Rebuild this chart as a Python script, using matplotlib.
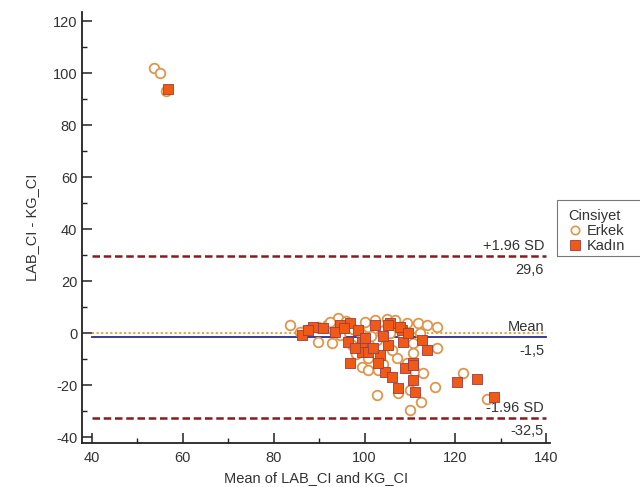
import matplotlib
matplotlib.use("Agg")
import matplotlib.pyplot as plt
from matplotlib.patches import Rectangle
from matplotlib.lines import Line2D

plt.rcParams['font.family'] = ['Liberation Sans', 'DejaVu Sans']
plt.rcParams['axes.unicode_minus'] = False

# Erkek (circles)
erkek_x = [53.6, 55.0, 56.3,
           83.6, 91.7, 94.1, 93.0, 89.7, 92.8, 97.2, 99.0, 100.7, 102.7, 104.9, 104.9,
           107.1, 109.3, 111.7, 113.7, 115.9, 110.6, 115.9, 110.6, 100.7, 99.4, 100.7,
           107.1, 109.3, 111.1, 102.7, 110.0, 115.5, 110.0, 112.4, 121.6, 126.9,
           87.1, 89.7, 95.7, 102.3, 106.7, 112.2, 102.9, 107.3, 112.8, 92.4, 100.1,
           94.6, 105.6, 85.8, 97.5, 103.8, 108.5, 96.0, 101.5, 106.0, 98.2, 104.0]
erkek_y = [102.0, 100.0, 93.0,
           3.1, 3.1, 5.8, 1.2, -3.5, -3.8, -4.6, 0.4, 2.3, -2.7, 5.5, 2.3,
           3.1, 3.8, 3.8, 3.1, 2.3, -3.8, -5.8, -7.7, -9.6, -13.1, -14.2,
           -9.6, -11.5, -15.0, -23.8, -21.9, -20.8, -29.6, -26.5, -15.4, -25.4,
           1.2, 2.3, 2.3, 5.0, 5.0, 0.0, -14.2, -23.1, -15.4, 4.2, 4.2,
           -0.8, 0.0, 0.4, 1.5, 0.8, -1.0, 4.5, -1.2, -6.5, -8.0, -12.0]

# Kadın (squares)
kadin_x = [56.7,
           86.2, 88.6, 94.6, 96.8, 96.3, 99.4, 99.4, 100.7, 103.4, 105.6, 108.2, 108.4,
           112.6, 113.7, 96.8, 104.5, 106.0, 108.9, 110.6, 110.6, 107.3, 111.1,
           120.3, 124.7, 128.4,
           87.5, 90.8, 98.5, 100.1, 102.3, 105.1, 107.8, 105.1, 101.8, 102.9, 97.9, 110.6,
           93.5, 109.5, 104.0, 95.5]
kadin_y = [94.0,
           -0.8, 2.3, 3.1, 3.8, -3.5, -3.5, -7.3, -7.3, -8.5, 3.8, 1.2, -3.5,
           -2.7, -6.5, -11.5, -15.0, -16.9, -13.5, -11.5, -18.1, -21.2, -22.7,
           -18.8, -17.7, -24.6,
           1.2, 1.9, 1.2, -1.9, 3.1, 3.1, 2.3, -4.6, -5.8, -11.5, -5.8, -12.3,
           0.5, 0.0, -1.0, 1.8]

mean_diff = -1.5
upper_loa = 29.6
lower_loa = -32.5
line_labels = [("+1.96 SD", "29,6", upper_loa), ("Mean", "-1,5", mean_diff), ("-1.96 SD", "-32,5", lower_loa)]

fig = plt.figure(figsize=(6.4, 4.87), dpi=100)
ax = fig.add_axes([82/640, 1-443/487, (550-82)/640, (443-12)/487])
ax.set_xlim(37.8, 140.8)
ax.set_ylim(-42.3, 123.5)

# reference lines
ax.plot([40, 140], [0, 0], color='#E8A040', lw=1.5, ls=(0, (1, 1.2)), zorder=1)
ax.plot([40, 140], [mean_diff, mean_diff], color='#2B2B8C', lw=1.3, zorder=1)
for y in (upper_loa, lower_loa):
    ax.plot([40, 140], [y, y], color='#8B1A1A', lw=1.8, ls=(0, (3, 1.5)), zorder=1)

ax.scatter(erkek_x, erkek_y, marker='o', s=48, facecolors='white', edgecolors='#E0954A',
           linewidths=1.3, zorder=3)
ax.scatter(kadin_x, kadin_y, marker='s', s=52, facecolors='#F05A14', edgecolors='#9A3A4A',
           linewidths=0.6, zorder=4)

for top, bot, y in line_labels:
    ax.annotate(top, (139.5, y), xytext=(0, 2), textcoords='offset points',
                ha='right', va='bottom', fontsize=10.5, color='#333333')
    ax.annotate(bot, (139.5, y), xytext=(0, -5), textcoords='offset points',
                ha='right', va='top', fontsize=10.5, color='#333333')

ax.spines['top'].set_visible(False)
ax.spines['right'].set_visible(False)
for s in ('left', 'bottom'):
    ax.spines[s].set_linewidth(1.3)
    ax.spines[s].set_color('#222222')
ax.set_xticks(range(40, 141, 20))
ax.set_xticks(range(50, 141, 20), minor=True)
ax.set_yticks(range(-40, 121, 20))
ax.set_yticks(range(-30, 121, 20), minor=True)
ax.tick_params(which='major', direction='in', length=7, width=1.1, labelsize=10.5,
               labelcolor='#333333', color='#222222')
ax.tick_params(which='minor', direction='in', length=3.5, width=1.0, color='#222222')
ax.tick_params(axis='x', pad=6)

ax.set_xlabel('Mean of LAB_CI and KG_CI', fontsize=10.5, color='#333333', labelpad=4)
ax.set_ylabel('LAB_CI - KG_CI', fontsize=10.5, color='#333333', labelpad=10)

# legend (box runs off the right edge)
fig.patches.append(Rectangle((557/640, 1-256/487), 100/640, 56/487, transform=fig.transFigure,
                             fill=False, edgecolor='#777777', lw=0.8))
handles = [Line2D([], [], marker='o', ls='', markerfacecolor='white', markeredgecolor='#E0954A',
                  markersize=6, markeredgewidth=1.2),
           Line2D([], [], marker='s', ls='', markerfacecolor='#F05A14', markeredgecolor='#9A3A4A',
                  markersize=6.5, markeredgewidth=0.6)]
leg = fig.legend(handles, ['Erkek', 'Kadın'], title='Cinsiyet', loc='upper left',
                 bbox_to_anchor=(558/640, 1-199/487), frameon=False, fontsize=10.5,
                 title_fontsize=10.5, handletextpad=0.3, borderpad=0.2, labelspacing=0.05,
                 handlelength=1.0, alignment='left')
leg.get_title().set_color('#333333')
for t in leg.get_texts():
    t.set_color('#333333')

fig.savefig('out.png', dpi=100)
